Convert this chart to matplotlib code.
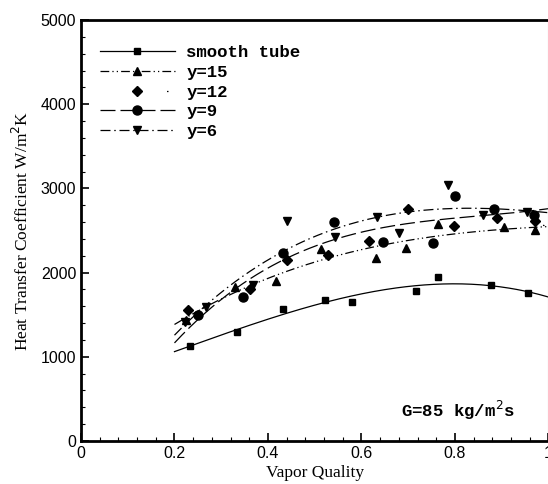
import numpy as np
import matplotlib
matplotlib.use("Agg")
import matplotlib.pyplot as plt
from matplotlib.ticker import MultipleLocator, FuncFormatter

# measured points (vapor quality, h in W/m2K)
x_smooth = [0.233, 0.334, 0.433, 0.522, 0.580, 0.717, 0.764, 0.878, 0.957]
h_smooth = [1128, 1294, 1567, 1674, 1650, 1781, 1947, 1852, 1757]

x_y15 = [0.225, 0.330, 0.418, 0.514, 0.632, 0.696, 0.764, 0.904, 0.972]
h_y15 = [1440, 1828, 1899, 2279, 2172, 2291, 2576, 2540, 2505]

x_y12 = [0.229, 0.362, 0.441, 0.529, 0.617, 0.700, 0.799, 0.891, 0.972]
h_y12 = [1555, 1804, 2149, 2208, 2374, 2754, 2552, 2647, 2612]

x_y9 = [0.251, 0.347, 0.433, 0.542, 0.647, 0.752, 0.801, 0.884, 0.970]
h_y9 = [1496, 1709, 2232, 2600, 2362, 2350, 2908, 2754, 2683]

x_y6 = [0.223, 0.268, 0.368, 0.441, 0.544, 0.634, 0.681, 0.786, 0.859, 0.955]
h_y6 = [1413, 1591, 1852, 2612, 2422, 2659, 2469, 3039, 2683, 2718]

series = [
    ("smooth tube", x_smooth, h_smooth, "s", 5.0, "-"),
    ("y=15", x_y15, h_y15, "^", 5.5, (0, (7, 2.5, 1, 2.5, 1, 2.5))),
    ("y=12", x_y12, h_y12, "D", 5.0, (204, (1.2, 256))),
    ("y=9", x_y9, h_y9, "o", 6.5, (0, (12, 4))),
    ("y=6", x_y6, h_y6, "v", 5.5, (0, (8, 3, 1.2, 3))),
]

mono = ["Liberation Mono", "DejaVu Sans Mono"]
serif = ["Liberation Serif", "DejaVu Serif"]

fig = plt.figure(figsize=(5.48, 4.84), dpi=100)
ax = fig.add_axes([0.1478, 0.0888, 0.853, 0.8699])

xf = np.linspace(0.2, 1.0, 200)
for name, xs, hs, mk, ms, ls in series:
    # third order trend line through each data set
    coef = np.polyfit(xs, hs, 3)
    ax.plot(xf, np.polyval(coef, xf), color="black", lw=0.9, linestyle=ls)
    ax.plot(xs, hs, linestyle="none", marker=mk, ms=ms, color="black")
    # proxy artist for the legend (line + marker)
    ax.plot([], [], color="black", lw=0.9, linestyle=ls, marker=mk, ms=ms,
            label=name)

ax.legend(loc="upper left", bbox_to_anchor=(0.041, 0.94), frameon=False,
          prop={"family": mono, "weight": "bold", "size": 12.5},
          handlelength=4.3, handletextpad=0.67, labelspacing=0.26,
          borderpad=0, borderaxespad=0, numpoints=1)

ax.text(0.685, 368, "G=85 kg/m$^2$s", fontfamily=mono, fontweight="bold",
        fontsize=12.5, va="center", ha="left")

ax.set_xlim(0, 1)
ax.set_ylim(0, 5000)
ax.xaxis.set_major_locator(MultipleLocator(0.2))
ax.xaxis.set_minor_locator(MultipleLocator(0.04))
ax.yaxis.set_major_locator(MultipleLocator(1000))
ax.yaxis.set_minor_locator(MultipleLocator(200))
ax.xaxis.set_major_formatter(FuncFormatter(lambda v, p: f"{v:g}"))
ax.yaxis.set_major_formatter(FuncFormatter(lambda v, p: f"{v:.0f}"))
ax.tick_params(which="both", direction="in", top=False, right=False,
               labelsize=11.5)
ax.tick_params(which="major", length=6, width=1.2)
ax.tick_params(which="minor", length=3, width=0.8)
for lab in ax.get_xticklabels() + ax.get_yticklabels():
    lab.set_fontfamily(["Liberation Sans", "DejaVu Sans"])

for side in ["left", "bottom", "top"]:
    ax.spines[side].set_linewidth(2.0)
ax.spines["right"].set_linewidth(0.8)
ax.spines["right"].set_color("#bbbbbb")

ax.set_xlabel("Vapor Quality", fontfamily=serif, fontsize=12.5, labelpad=3)
ax.set_ylabel("Heat Transfer Coefficient W/m$^2$K", fontfamily=serif,
              fontsize=12.5, labelpad=6)

fig.savefig("out.png", dpi=100)
